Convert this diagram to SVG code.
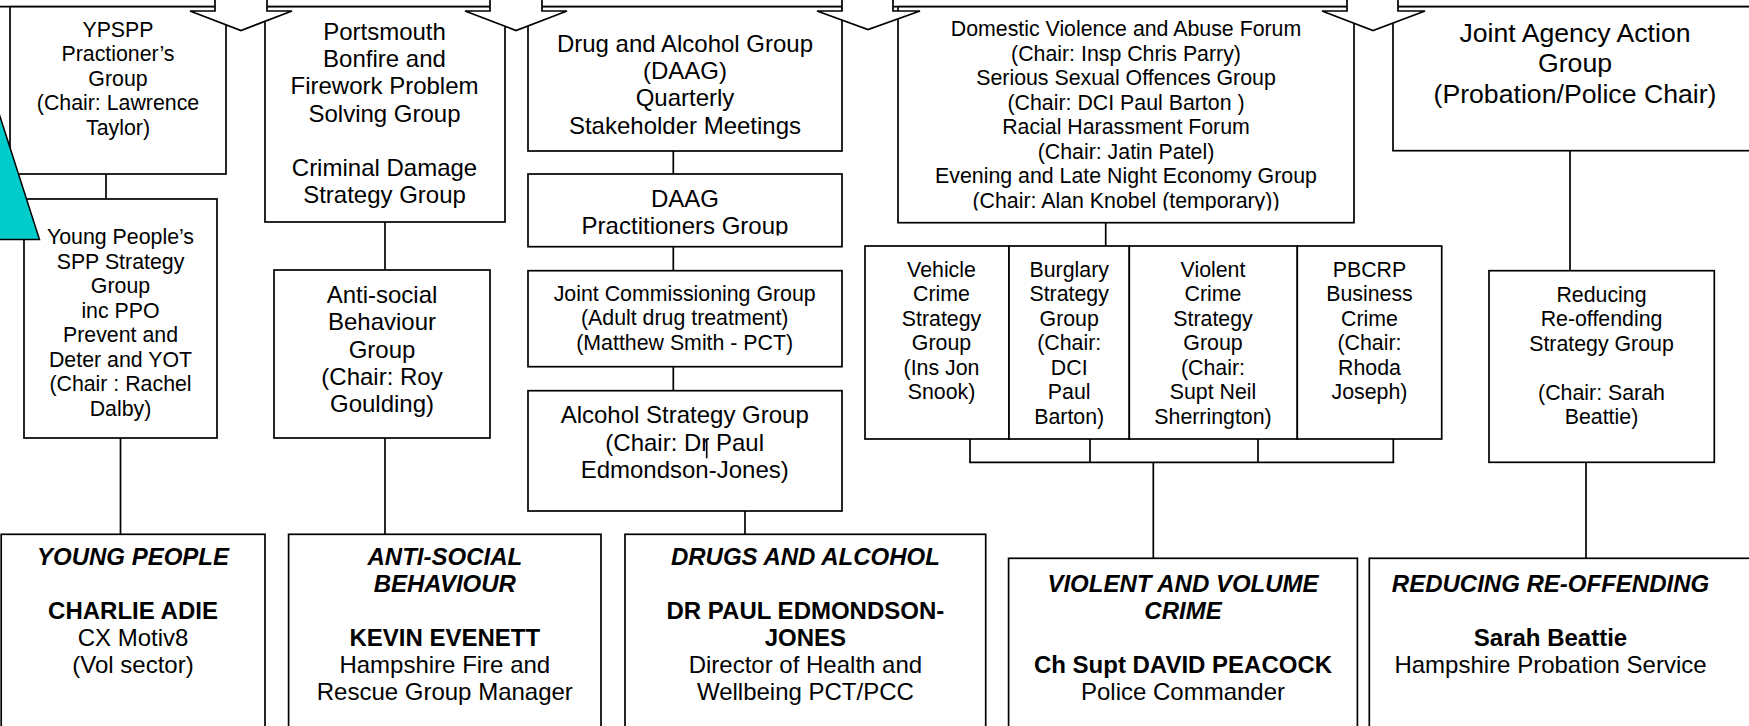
<svg xmlns="http://www.w3.org/2000/svg" width="1749" height="726" viewBox="0 0 1749 726">
<style>
text{font-family:"Liberation Sans",Arial,sans-serif;fill:#000;text-anchor:middle}
.s16{font-size:21.33px}
.s18{font-size:24px}
.s20{font-size:26.67px}
.bi{font-weight:bold;font-style:italic}
.b{font-weight:bold}
.box{fill:#fff;stroke:#000;stroke-width:1.7}
.arw{fill:#fff;stroke:#000;stroke-width:1.7;stroke-linejoin:miter}
.con line{stroke:#000;stroke-width:1.7}
</style>
<defs>
<clipPath id="clipDaag"><rect x="528" y="174" width="314" height="61.5"/></clipPath>
<clipPath id="clipDom"><rect x="898" y="6" width="456" height="204.5"/></clipPath>
</defs>
<rect width="1749" height="726" fill="#fff"/>

<line x1="0" y1="6.7" x2="1749" y2="6.7" stroke="#000" stroke-width="1.7"/>

<g id="n-ypspp">
<rect class="box" x="10" y="6.7" width="216" height="167.3"/>
<text class="s16"><tspan x="118" y="36.7">YPSPP</tspan><tspan x="118" y="61.2">Practioner’s</tspan><tspan x="118" y="85.7">Group</tspan><tspan x="118" y="110.2">(Chair: Lawrence</tspan><tspan x="118" y="134.7">Taylor)</tspan></text>
</g>
<g id="n-portsmouth">
<rect class="box" x="265" y="6.7" width="240" height="215.3"/>
<text class="s18"><tspan x="384.5" y="40">Portsmouth</tspan><tspan x="384.5" y="67.2">Bonfire and</tspan><tspan x="384.5" y="94.4">Firework Problem</tspan><tspan x="384.5" y="121.6">Solving Group</tspan><tspan x="384.5" y="176">Criminal Damage</tspan><tspan x="384.5" y="203.2">Strategy Group</tspan></text>
</g>
<g id="n-daag-main">
<rect class="box" x="528" y="6.7" width="314" height="144.3"/>
<text class="s18"><tspan x="685" y="51.7">Drug and Alcohol Group</tspan><tspan x="685" y="79">(DAAG)</tspan><tspan x="685" y="106.3">Quarterly</tspan><tspan x="685" y="133.6">Stakeholder Meetings</tspan></text>
</g>
<g id="n-domestic">
<rect class="box" x="898" y="6.7" width="456" height="216"/>
<text class="s16" clip-path="url(#clipDom)"><tspan x="1126" y="36">Domestic Violence and Abuse Forum</tspan><tspan x="1126" y="60.5">(Chair: Insp Chris Parry)</tspan><tspan x="1126" y="85">Serious Sexual Offences Group</tspan><tspan x="1126" y="109.5">(Chair: DCI Paul Barton )</tspan><tspan x="1126" y="134">Racial Harassment Forum</tspan><tspan x="1126" y="158.5">(Chair: Jatin Patel)</tspan><tspan x="1126" y="183">Evening and Late Night Economy Group</tspan><tspan x="1126" y="207.5">(Chair: Alan Knobel (temporary))</tspan></text>
</g>
<g id="n-jaag">
<rect class="box" x="1393" y="6.7" width="380" height="144"/>
<text class="s20"><tspan x="1575" y="41.7">Joint Agency Action</tspan><tspan x="1575" y="72.4">Group</tspan><tspan x="1575" y="103.1">(Probation/Police Chair)</tspan></text>
</g>

<g id="arrows">
<polygon class="arw" points="215,-20 215,11 190,11 241,30.5 292,11 267,11 267,-20"/>
<polygon class="arw" points="490,-20 490,11 465,11 516,30.5 567,11 542,11 542,-20"/>
<polygon class="arw" points="842,-20 842,11 817,11 868,29.5 920,11 893,11 893,-20"/>
<polygon class="arw" points="1347,-20 1347,11 1322,11 1373,30.5 1425,11 1398,11 1398,-20"/>
</g>

<g id="n-ypsg">
<rect class="box" x="24" y="199" width="193" height="239"/>
<text class="s16"><tspan x="120.5" y="244">Young People’s</tspan><tspan x="120.5" y="268.5">SPP Strategy</tspan><tspan x="120.5" y="293">Group</tspan><tspan x="120.5" y="317.5">inc PPO</tspan><tspan x="120.5" y="342">Prevent and</tspan><tspan x="120.5" y="366.5">Deter and YOT</tspan><tspan x="120.5" y="391">(Chair : Rachel</tspan><tspan x="120.5" y="415.5">Dalby)</tspan></text>
</g>
<polygon id="cyan-triangle" points="-4,104 39.5,239.5 -60,239.5" fill="#00CCCC" stroke="#000" stroke-width="1.5"/>

<g id="n-asb">
<rect class="box" x="274" y="270" width="216" height="168"/>
<text class="s18"><tspan x="382" y="303.3">Anti-social</tspan><tspan x="382" y="330.4">Behaviour</tspan><tspan x="382" y="357.5">Group</tspan><tspan x="382" y="384.6">(Chair: Roy</tspan><tspan x="382" y="411.7">Goulding)</tspan></text>
</g>
<g id="n-daag-prac">
<rect class="box" x="528" y="174" width="314" height="72.7"/>
<text class="s18" clip-path="url(#clipDaag)"><tspan x="685" y="206.7">DAAG</tspan><tspan x="685" y="234">Practitioners Group</tspan></text>
</g>
<g id="n-jcg">
<rect class="box" x="528" y="270.7" width="314" height="96"/>
<text class="s16"><tspan x="684.7" y="300.7">Joint Commissioning Group</tspan><tspan x="684.7" y="325.2">(Adult drug treatment)</tspan><tspan x="684.7" y="349.7">(Matthew Smith - PCT)</tspan></text>
</g>
<g id="n-alcohol">
<rect class="box" x="528" y="390.7" width="314" height="120.3"/>
<text class="s18"><tspan x="684.7" y="423.3">Alcohol Strategy Group</tspan><tspan x="684.7" y="450.5">(Chair: Dr Paul</tspan><tspan x="684.7" y="477.7">Edmondson-Jones)</tspan></text>
<line x1="706.7" y1="439.3" x2="706.7" y2="458.3" stroke="#000" stroke-width="1.6"/>
</g>
<g id="n-vehicle">
<rect class="box" x="865" y="246" width="144" height="193"/>
<text class="s16"><tspan x="941.5" y="276.7">Vehicle</tspan><tspan x="941.5" y="301.2">Crime</tspan><tspan x="941.5" y="325.7">Strategy</tspan><tspan x="941.5" y="350.2">Group</tspan><tspan x="941.5" y="374.7">(Ins Jon</tspan><tspan x="941.5" y="399.2">Snook)</tspan></text>
</g>
<g id="n-burglary">
<rect class="box" x="1009" y="246" width="120.3" height="193"/>
<text class="s16"><tspan x="1069.2" y="276.7">Burglary</tspan><tspan x="1069.2" y="301.2">Strategy</tspan><tspan x="1069.2" y="325.7">Group</tspan><tspan x="1069.2" y="350.2">(Chair:</tspan><tspan x="1069.2" y="374.7">DCI</tspan><tspan x="1069.2" y="399.2">Paul</tspan><tspan x="1069.2" y="423.7">Barton)</tspan></text>
</g>
<g id="n-violent">
<rect class="box" x="1129.3" y="246" width="168" height="193"/>
<text class="s16"><tspan x="1213" y="276.7">Violent</tspan><tspan x="1213" y="301.2">Crime</tspan><tspan x="1213" y="325.7">Strategy</tspan><tspan x="1213" y="350.2">Group</tspan><tspan x="1213" y="374.7">(Chair:</tspan><tspan x="1213" y="399.2">Supt Neil</tspan><tspan x="1213" y="423.7">Sherrington)</tspan></text>
</g>
<g id="n-pbcrp">
<rect class="box" x="1297.3" y="246" width="144.4" height="193"/>
<text class="s16"><tspan x="1369.5" y="276.7">PBCRP</tspan><tspan x="1369.5" y="301.2">Business</tspan><tspan x="1369.5" y="325.7">Crime</tspan><tspan x="1369.5" y="350.2">(Chair:</tspan><tspan x="1369.5" y="374.7">Rhoda</tspan><tspan x="1369.5" y="399.2">Joseph)</tspan></text>
</g>
<g id="n-rrsg">
<rect class="box" x="1489" y="270.7" width="225.3" height="191.6"/>
<text class="s16"><tspan x="1601.5" y="301.7">Reducing</tspan><tspan x="1601.5" y="326.2">Re-offending</tspan><tspan x="1601.5" y="350.7">Strategy Group</tspan><tspan x="1601.5" y="399.7">(Chair: Sarah</tspan><tspan x="1601.5" y="424.2">Beattie)</tspan></text>
</g>

<g id="n-young">
<rect class="box" x="1.2" y="534.3" width="263.8" height="200"/>
<text class="s18"><tspan class="bi" x="133" y="565">YOUNG PEOPLE</tspan><tspan class="b" x="133" y="619">CHARLIE ADIE</tspan><tspan x="133" y="646">CX Motiv8</tspan><tspan x="133" y="673">(Vol sector)</tspan></text>
</g>
<g id="n-antisocial">
<rect class="box" x="288.6" y="534.3" width="312.4" height="200"/>
<text class="s18"><tspan class="bi" x="444.8" y="565">ANTI-SOCIAL</tspan><tspan class="bi" x="444.8" y="592">BEHAVIOUR</tspan><tspan class="b" x="444.8" y="646">KEVIN EVENETT</tspan><tspan x="444.8" y="673">Hampshire Fire and</tspan><tspan x="444.8" y="700">Rescue Group Manager</tspan></text>
</g>
<g id="n-drugs">
<rect class="box" x="625" y="534.3" width="360.7" height="200"/>
<text class="s18"><tspan class="bi" x="805.4" y="565">DRUGS AND ALCOHOL</tspan><tspan class="b" x="805.4" y="619">DR PAUL EDMONDSON-</tspan><tspan class="b" x="805.4" y="646">JONES</tspan><tspan x="805.4" y="673">Director of Health and</tspan><tspan x="805.4" y="700">Wellbeing PCT/PCC</tspan></text>
</g>
<g id="n-vvc">
<rect class="box" x="1008.6" y="558.3" width="348.8" height="200"/>
<text class="s18"><tspan class="bi" x="1183" y="592">VIOLENT AND VOLUME</tspan><tspan class="bi" x="1183" y="619">CRIME</tspan><tspan class="b" x="1183" y="673">Ch Supt DAVID PEACOCK</tspan><tspan x="1183" y="700">Police Commander</tspan></text>
</g>
<g id="n-reoff">
<rect class="box" x="1369.3" y="558.3" width="400" height="200"/>
<text class="s18"><tspan class="bi" x="1550.5" y="592">REDUCING RE-OFFENDING</tspan><tspan class="b" x="1550.5" y="646">Sarah Beattie</tspan><tspan x="1550.5" y="673">Hampshire Probation Service</tspan></text>
</g>

<g id="connectors" class="con">
<line x1="106" y1="174" x2="106" y2="199"/>
<line x1="120.5" y1="438" x2="120.5" y2="534.3"/>
<line x1="385" y1="222" x2="385" y2="270"/>
<line x1="385" y1="438" x2="385" y2="534.3"/>
<line x1="673.3" y1="151" x2="673.3" y2="174"/>
<line x1="673.3" y1="246.7" x2="673.3" y2="270.7"/>
<line x1="673.3" y1="366.7" x2="673.3" y2="390.7"/>
<line x1="745" y1="511" x2="745" y2="534.3"/>
<line x1="1105.7" y1="222.7" x2="1105.7" y2="246"/>
<line x1="970" y1="439" x2="970" y2="462.3"/>
<line x1="1090" y1="439" x2="1090" y2="462.3"/>
<line x1="1258" y1="439" x2="1258" y2="462.3"/>
<line x1="1393.3" y1="439" x2="1393.3" y2="462.3"/>
<line x1="969.15" y1="462.3" x2="1394.15" y2="462.3"/>
<line x1="1153.3" y1="462.3" x2="1153.3" y2="558.3"/>
<line x1="1570" y1="150.7" x2="1570" y2="270.7"/>
<line x1="1586" y1="462.3" x2="1586" y2="558.3"/>
</g>
</svg>
